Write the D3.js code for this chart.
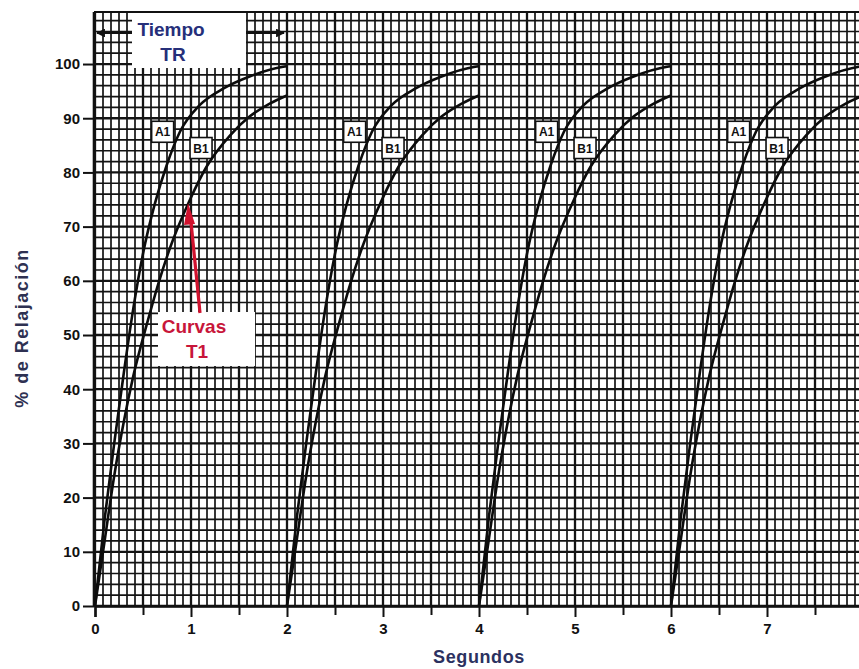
<!DOCTYPE html>
<html>
<head>
<meta charset="utf-8">
<script src="https://cdn.jsdelivr.net/npm/d3@7"></script>
<style>
  html, body { margin: 0; padding: 0; background: #ffffff; }
  svg { display: block; font-family: "Liberation Sans", Arial, sans-serif; }
</style>
</head>
<body>
<svg id="chart" width="859" height="669"></svg>
<script>
// ---- data ----
const cycleStarts = [0, 2, 4, 6];               // seconds at which each TR cycle starts
const a1Time  = [0, 0.10, 0.20, 0.30, 0.40, 0.50, 0.62, 0.75, 0.885, 1.09, 1.34, 1.61, 1.96, 2.0];
const a1Value = [0, 16, 30, 43, 55, 65, 74, 81.5, 87.5, 92.4, 95.5, 97.7, 99.5, 99.6];
const b1Time  = [0, 0.10, 0.20, 0.30, 0.40, 0.54, 0.66, 0.78, 0.99, 1.16, 1.41, 1.61, 1.82, 2.0];
const b1Value = [0, 12, 24, 34, 42.5, 52, 59.5, 66, 75, 81, 86.9, 90.3, 92.7, 94.2];
const curveNames = ["A1", "B1"];
const labelOffsetT = [0.59, 0.99];              // label box left, seconds after cycle start
const labelValue = [87.5, 84.5];
const xTickValues = [0, 1, 2, 3, 4, 5, 6, 7];
const xMinorTicks = [0.5, 1.5, 2.5, 3.5, 4.5, 5.5, 6.5, 7.5];
const yTickValues = [0, 10, 20, 30, 40, 50, 60, 70, 80, 90, 100];
const xTitle = "Segundos";
const yTitle = "% de Relajación";
const trText = ["Tiempo", "TR"];
const t1Text = ["Curvas", "T1"];

// ---- layout ----
const svg = d3.select("#chart");
const pLeft = 95, pRight = 863, pTop = 12, pBottom = 606;
const x = d3.scaleLinear().domain([0, 8]).range([pLeft, pRight]);
const y = d3.scaleLinear().domain([0, 109.6]).range([pBottom, pTop]);

// grid (chart paper)
const grid = svg.append("g");
const vLines = d3.range(0, 8 * 12 + 1).map(i => i / 12);
const hLines = d3.range(0, 110, 2);
grid.selectAll("line.v").data(vLines).join("line")
  .attr("x1", d => x(d)).attr("x2", d => x(d))
  .attr("y1", pTop).attr("y2", pBottom)
  .attr("stroke", "#141414")
  .attr("stroke-width", (d, i) => i % 6 === 0 ? 2.3 : 1.7);
grid.selectAll("line.h").data(hLines).join("line")
  .attr("x1", pLeft - 1).attr("x2", pRight)
  .attr("y1", d => y(d)).attr("y2", d => y(d))
  .attr("stroke", "#141414")
  .attr("stroke-width", (d, i) => i % 5 === 0 ? 2.3 : 1.7);
grid.append("line").attr("x1", pLeft - 1).attr("x2", pRight).attr("y1", pTop).attr("y2", pTop)
  .attr("stroke", "#111").attr("stroke-width", 2.2);
grid.append("line").attr("x1", pLeft - 1).attr("x2", pLeft - 1).attr("y1", pTop).attr("y2", pBottom)
  .attr("stroke", "#111").attr("stroke-width", 2.6);

// white annotation boxes over the grid
svg.append("rect").attr("x", 132).attr("y", 13).attr("width", 114).attr("height", 55).attr("fill", "#fff");
svg.append("rect").attr("x", 158).attr("y", 312).attr("width", 97).attr("height", 54).attr("fill", "#fff");

// curve label boxes
const labels = svg.append("g");
cycleStarts.forEach(c => {
  curveNames.forEach((name, k) => {
    const bx = x(c + labelOffsetT[k]);
    const by = y(labelValue[k]) - 10.5;
    labels.append("rect").attr("x", bx).attr("y", by).attr("width", 22).attr("height", 21)
      .attr("fill", "#fff").attr("stroke", "#111").attr("stroke-width", 1.6);
    labels.append("text").attr("x", bx + 11).attr("y", by + 15).attr("text-anchor", "middle")
      .attr("font-size", 12).attr("font-weight", "bold").attr("fill", "#111").text(name);
  });
});

// curves
const line = d3.line().x(d => x(d[0])).y(d => y(d[1])).curve(d3.curveMonotoneX);
const series = [
  a1Time.map((t, i) => [t, a1Value[i]]),
  b1Time.map((t, i) => [t, b1Value[i]])
];
cycleStarts.forEach(c => {
  series.forEach(s => {
    svg.append("path")
      .datum(s.map(p => [p[0] + c, p[1]]))
      .attr("d", line).attr("fill", "none")
      .attr("stroke", "#0c0c0c").attr("stroke-width", 2.6);
  });
});

// axes
const yAxis = svg.append("g").attr("transform", `translate(${pLeft - 1},0)`)
  .call(d3.axisLeft(y).tickValues(yTickValues).tickSize(11).tickPadding(3));
yAxis.select(".domain").remove();
yAxis.selectAll("line").attr("stroke", "#111").attr("stroke-width", 2);
yAxis.selectAll("text").attr("font-size", 15).attr("font-weight", "bold").attr("fill", "#111")
  .attr("font-family", "Liberation Sans, Arial, sans-serif");

const xAxis = svg.append("g").attr("transform", `translate(0,${pBottom})`)
  .call(d3.axisBottom(x).tickValues(xTickValues).tickSize(11).tickPadding(6).tickFormat(d3.format("d")));
xAxis.select(".domain").attr("stroke", "#111").attr("stroke-width", 2.4);
xAxis.selectAll("line").attr("stroke", "#111").attr("stroke-width", 2);
xAxis.selectAll("text").attr("font-size", 15).attr("font-weight", "bold").attr("fill", "#111")
  .attr("font-family", "Liberation Sans, Arial, sans-serif");
const xMinor = svg.append("g").attr("transform", `translate(0,${pBottom})`)
  .call(d3.axisBottom(x).tickValues(xMinorTicks).tickSize(9).tickFormat(""));
xMinor.select(".domain").remove();
xMinor.selectAll("line").attr("stroke", "#111").attr("stroke-width", 2);

// axis titles
svg.append("text").attr("x", 479).attr("y", 663).attr("text-anchor", "middle")
  .attr("font-size", 18).attr("font-weight", "bold").attr("fill", "#2b3160")
  .attr("letter-spacing", 0.6).text(xTitle);
svg.append("text").attr("transform", "translate(28,328) rotate(-90)").attr("text-anchor", "middle")
  .attr("font-size", 18).attr("font-weight", "bold").attr("fill", "#2e3152")
  .attr("letter-spacing", 1.5).text(yTitle);

// "Tiempo TR" annotation with arrows
const defs = svg.append("defs");
defs.append("marker").attr("id", "ah").attr("viewBox", "0 0 10 10").attr("refX", 9).attr("refY", 5)
  .attr("markerWidth", 4).attr("markerHeight", 4).attr("orient", "auto-start-reverse")
  .append("path").attr("d", "M0,0 L10,5 L0,10 z").attr("fill", "#111");
svg.append("line").attr("x1", 132).attr("x2", 97).attr("y1", 33).attr("y2", 33)
  .attr("stroke", "#111").attr("stroke-width", 2.2).attr("marker-end", "url(#ah)");
svg.append("line").attr("x1", 246).attr("x2", 284).attr("y1", 33).attr("y2", 33)
  .attr("stroke", "#111").attr("stroke-width", 2.2).attr("marker-end", "url(#ah)");
svg.append("text").attr("x", 171).attr("y", 36).attr("text-anchor", "middle")
  .attr("font-size", 19).attr("font-weight", "bold").attr("fill", "#262f7a").text(trText[0]);
svg.append("text").attr("x", 173).attr("y", 61).attr("text-anchor", "middle")
  .attr("font-size", 19).attr("font-weight", "bold").attr("fill", "#262f7a").text(trText[1]);

// "Curvas T1" annotation with red arrow
svg.append("line").attr("x1", 200).attr("y1", 313).attr("x2", 191).attr("y2", 222)
  .attr("stroke", "#d0122e").attr("stroke-width", 3.2);
svg.append("path").attr("d", "M188,203 L195,224 L184,225 Z").attr("fill", "#d0122e");
svg.append("text").attr("x", 194).attr("y", 333).attr("text-anchor", "middle")
  .attr("font-size", 19).attr("font-weight", "bold").attr("fill", "#c8163a").text(t1Text[0]);
svg.append("text").attr("x", 197).attr("y", 358).attr("text-anchor", "middle")
  .attr("font-size", 19).attr("font-weight", "bold").attr("fill", "#c8163a").text(t1Text[1]);
</script>
</body>
</html>
